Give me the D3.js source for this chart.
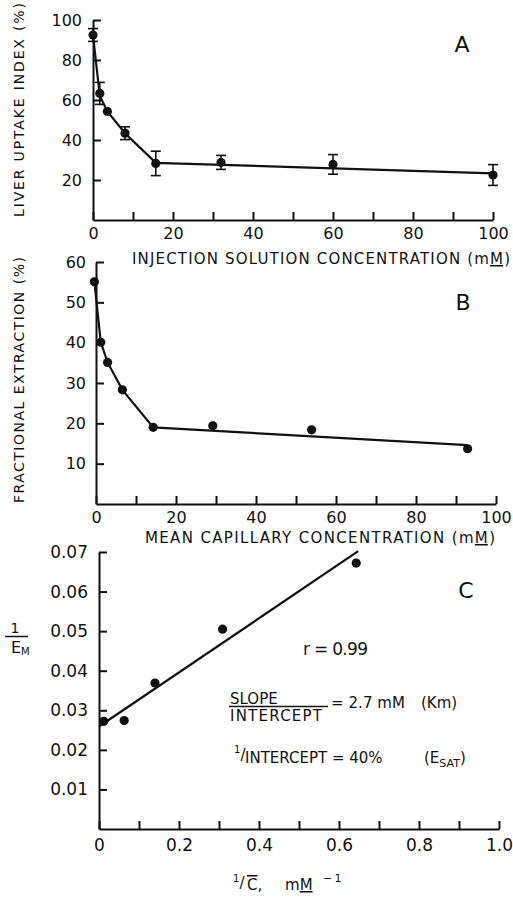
<!DOCTYPE html>
<html>
<head>
<meta charset="utf-8">
<script src="https://cdn.jsdelivr.net/npm/d3@7"></script>
<style>
  body { margin: 0; background: #fff; }
  text { font-family: "DejaVu Sans", sans-serif; fill: #111; }
</style>
</head>
<body>
<script>
// panel A: liver uptake index vs injection concentration
var concA = [0, 1.7, 3.6, 8, 15.7, 32, 60, 100];
var uptakeA = [92.5, 63.3, 54.3, 43.4, 28.3, 28.8, 27.8, 22.5];
var errA = [3.2, 5.5, 0, 3.2, 6.1, 3.5, 4.9, 5.2];
var fitAx = [0, 1.7, 3.6, 8, 15.7, 100];
var fitAy = [92.5, 62, 54.3, 43.4, 28.6, 23.3];

// panel B: fractional extraction vs mean capillary concentration
var concB = [-0.4, 1.2, 2.9, 6.6, 14.3, 29.2, 53.9, 92.9];
var extractB = [55.1, 40.1, 35.1, 28.3, 19, 19.4, 18.4, 13.7];
var fitBx = [-0.4, 1.2, 2.9, 6.6, 14.3, 92.9];
var fitBy = [55.1, 40.1, 35.1, 28.3, 19, 14.6];

// panel C: double reciprocal plot
var invC = [0.012, 0.063, 0.14, 0.309, 0.643];
var invE = [0.0272, 0.0274, 0.0369, 0.0505, 0.0672];
var fitCx = [0, 0.648];
var fitCy = [0.0259, 0.0702];

var ticksA_x = d3.range(0, 101, 10);
var ticksA_y = [20, 40, 60, 80, 100];
var ticksB_x = d3.range(0, 101, 10);
var ticksB_y = [10, 20, 30, 40, 50, 60];
var ticksC_x = d3.range(0, 11).map(function (i) { return i / 10; });
var ticksC_y = [0.01, 0.02, 0.03, 0.04, 0.05, 0.06, 0.07];

var svg = d3.select("body").append("svg").attr("width", 513).attr("height", 906);

function styleAxis(g, size) {
  g.attr("font-family", null).attr("font-size", size);
  g.selectAll("path, line").attr("stroke", "#111").attr("stroke-width", 2);
  g.selectAll("text").attr("fill", "#111");
}

function drawPanel(p) {
  var x = d3.scaleLinear().domain(p.xDomain).range(p.xRange);
  var y = d3.scaleLinear().domain(p.yDomain).range(p.yRange);
  var group = svg.append("g");

  group.append("g")
    .attr("transform", "translate(0," + p.yRange[0] + ")")
    .call(d3.axisBottom(x).tickValues(p.xTicks).tickFormat(p.xFormat)
      .tickSizeInner(-8).tickSizeOuter(0).tickPadding(p.xPad))
    .call(styleAxis, p.fontSize);

  group.append("g")
    .attr("transform", "translate(" + p.xRange[0] + ",0)")
    .call(d3.axisLeft(y).tickValues(p.yTicks).tickFormat(p.yFormat)
      .tickSizeInner(-8).tickSizeOuter(0).tickPadding(p.yPad))
    .call(styleAxis, p.fontSize);

  var fit = p.fitX.map(function (d, i) { return [d, p.fitY[i]]; });
  group.append("path")
    .attr("d", d3.line().x(function (d) { return x(d[0]); }).y(function (d) { return y(d[1]); })(fit))
    .style("fill", "none")
    .style("stroke", "#111")
    .style("stroke-width", "2.2px");

  if (p.err) {
    p.xs.forEach(function (d, i) {
      if (!p.err[i]) return;
      var top = y(p.ys[i] + p.err[i]), bot = y(p.ys[i] - p.err[i]), cx = x(d);
      var eb = group.append("g").style("stroke", "#111").style("stroke-width", "1.6px");
      eb.append("line").attr("x1", cx).attr("x2", cx).attr("y1", top).attr("y2", bot);
      eb.append("line").attr("x1", cx - 5).attr("x2", cx + 5).attr("y1", top).attr("y2", top);
      eb.append("line").attr("x1", cx - 5).attr("x2", cx + 5).attr("y1", bot).attr("y2", bot);
    });
  }

  group.selectAll("circle.dot")
    .data(p.xs)
    .enter()
    .append("circle")
    .attr("class", "dot")
    .attr("cx", function (d) { return x(d); })
    .attr("cy", function (d, i) { return y(p.ys[i]); })
    .attr("r", 4.6)
    .style("fill", "#111");

  group.append("text")
    .attr("x", p.letterX).attr("y", p.letterY)
    .attr("text-anchor", "middle")
    .style("font-size", "22px")
    .text(p.letter);

  return group;
}

drawPanel({
  xDomain: [0, 100], xRange: [93, 493], yDomain: [0, 100], yRange: [220, 20],
  xTicks: ticksA_x, yTicks: ticksA_y,
  xFormat: function (d) { return d % 20 === 0 ? d : ""; },
  yFormat: function (d) { return d; },
  xPad: 8, yPad: 11, fontSize: 16,
  xs: concA, ys: uptakeA, err: errA, fitX: fitAx, fitY: fitAy,
  letter: "A", letterX: 462, letterY: 52
});

drawPanel({
  xDomain: [0, 100], xRange: [96, 496], yDomain: [0, 60], yRange: [504, 262],
  xTicks: ticksB_x, yTicks: ticksB_y,
  xFormat: function (d) { return d % 20 === 0 ? d : ""; },
  yFormat: function (d) { return d; },
  xPad: 8, yPad: 10, fontSize: 16,
  xs: concB, ys: extractB, err: null, fitX: fitBx, fitY: fitBy,
  letter: "B", letterX: 463, letterY: 310
});

drawPanel({
  xDomain: [0, 1], xRange: [99, 499], yDomain: [0, 0.07], yRange: [829, 552],
  xTicks: ticksC_x, yTicks: ticksC_y,
  xFormat: function (d) {
    var k = Math.round(d * 10);
    if (k % 2 !== 0) return "";
    return k === 0 ? "0" : d.toFixed(1);
  },
  yFormat: d3.format(".2f"),
  xPad: 10, yPad: 11, fontSize: 17,
  xs: invC, ys: invE, err: null, fitX: fitCx, fitY: fitCy,
  letter: "C", letterX: 466, letterY: 598
});

// axis titles
svg.append("text")
  .attr("transform", "translate(24,110) rotate(-90)")
  .attr("text-anchor", "middle")
  .attr("textLength", 214).attr("lengthAdjust", "spacing")
  .style("font-size", "14px")
  .text("LIVER UPTAKE INDEX (%)");

svg.append("text")
  .attr("transform", "translate(24,380) rotate(-90)")
  .attr("text-anchor", "middle")
  .attr("textLength", 246).attr("lengthAdjust", "spacing")
  .style("font-size", "14px")
  .text("FRACTIONAL EXTRACTION (%)");

function mmTitle(label, x0, len, baseline) {
  var t = svg.append("text")
    .attr("x", x0).attr("y", baseline)
    .attr("textLength", len).attr("lengthAdjust", "spacing")
    .style("font-size", "15px");
  t.append("tspan").text(label + " (m");
  t.append("tspan").style("text-decoration", "underline").text("M");
  t.append("tspan").text(")");
}
mmTitle("INJECTION SOLUTION CONCENTRATION", 132, 378, 264);
mmTitle("MEAN CAPILLARY CONCENTRATION", 145, 350, 543);

// 1/E_M label
svg.append("text").attr("x", 15).attr("y", 633).attr("text-anchor", "middle")
  .style("font-size", "14px").text("1");
svg.append("line").attr("x1", 5).attr("x2", 28).attr("y1", 636.5).attr("y2", 636.5)
  .style("stroke", "#111").style("stroke-width", 1.5);
var em = svg.append("text").attr("x", 11).attr("y", 653).style("font-size", "16px");
em.append("tspan").text("E");
em.append("tspan").attr("dy", 2).style("font-size", "10px").text("M");

// x title of panel C
var ct = svg.append("text").attr("x", 233).attr("y", 890).style("font-size", "15px");
ct.append("tspan").attr("dy", -8).style("font-size", "10px").text("1");
ct.append("tspan").attr("dy", 6).text("/");
ct.append("tspan").attr("x", 247).attr("dy", 2).style("text-decoration", "overline").text("C");
ct.append("tspan").text(",");
ct.append("tspan").attr("x", 285).text("m");
ct.append("tspan").style("text-decoration", "underline").text("M");
ct.append("tspan").attr("x", 323).attr("dy", -8).style("font-size", "11px").text("\u2212\u20091");

// annotations in panel C
svg.append("text").attr("x", 303).attr("y", 655).attr("textLength", 65).attr("lengthAdjust", "spacing")
  .style("font-size", "17px").text("r = 0.99");

svg.append("text").attr("x", 230).attr("y", 704).style("font-size", "15px").text("SLOPE");
svg.append("line").attr("x1", 229).attr("x2", 328).attr("y1", 706.5).attr("y2", 706.5)
  .style("stroke", "#111").style("stroke-width", 1.5);
svg.append("text").attr("x", 230).attr("y", 721).attr("textLength", 92).attr("lengthAdjust", "spacing")
  .style("font-size", "15px").text("INTERCEPT");
svg.append("text").attr("x", 331).attr("y", 708).attr("textLength", 74).attr("lengthAdjust", "spacing")
  .style("font-size", "15px").text("= 2.7 mM");
svg.append("text").attr("x", 421).attr("y", 708).style("font-size", "15px").text("(Km)");

var ic = svg.append("text").attr("x", 234).attr("y", 763).style("font-size", "15px");
ic.append("tspan").attr("dy", -10).style("font-size", "10px").text("1");
ic.append("tspan").attr("dy", 7).text("/");
ic.append("tspan").attr("x", 245).attr("dy", 3).text("INTERCEPT = 40%");
var es = svg.append("text").attr("x", 424).attr("y", 763).style("font-size", "15px");
es.append("tspan").text("(E");
es.append("tspan").attr("dy", 4).style("font-size", "11px").text("SAT");
es.append("tspan").attr("dy", -4).text(")");
</script>
</body>
</html>
